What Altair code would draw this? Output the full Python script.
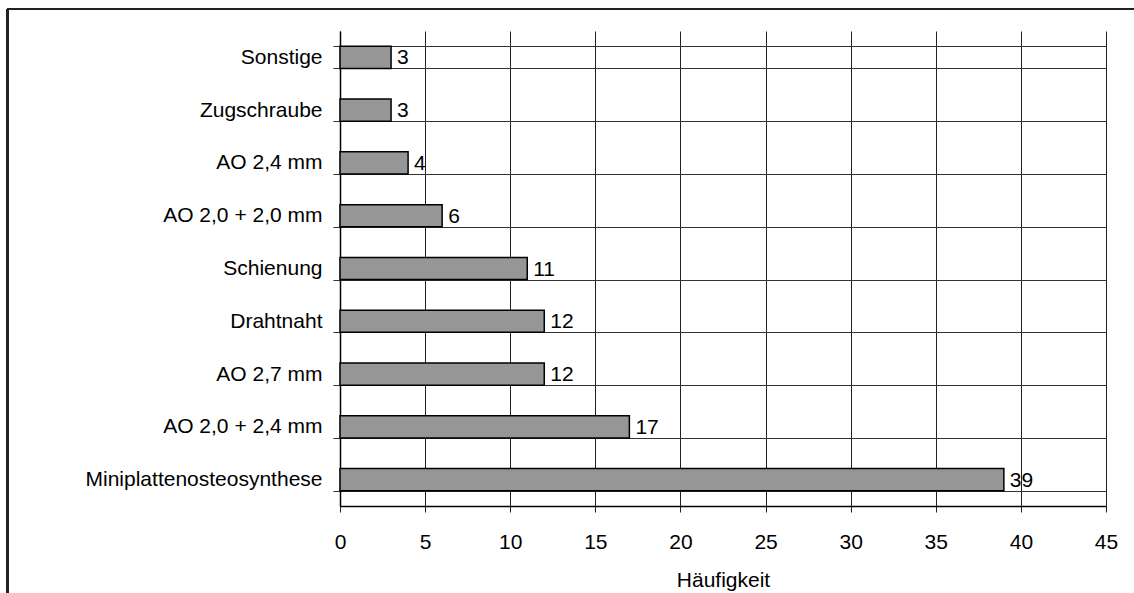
import altair as alt
import pandas as pd

# Osteosynthesis methods and how often each was used
methods = [
    "Sonstige",
    "Zugschraube",
    "AO 2,4 mm",
    "AO 2,0 + 2,0 mm",
    "Schienung",
    "Drahtnaht",
    "AO 2,7 mm",
    "AO 2,0 + 2,4 mm",
    "Miniplattenosteosynthese",
]
counts = [3, 3, 4, 6, 11, 12, 12, 17, 39]
x_ticks = [0, 5, 10, 15, 20, 25, 30, 35, 40, 45]

df = pd.DataFrame({"Methode": methods, "Anzahl": counts})

FONT = "Liberation Sans"
FS = 21
W, H = 766, 475
PAD_L, PAD_T, PAD_R, PAD_B = 340, 31, 28, 87

y_enc = alt.Y(
    "Methode:N",
    sort=methods,
    title=None,
    scale=alt.Scale(paddingInner=0.58, paddingOuter=0.29),
    axis=alt.Axis(
        tickBand="extent",
        grid=True,
        gridColor="#333333",
        gridWidth=1,
        gridOpacity=1,
        domainColor="#000000",
        domainWidth=1.5,
        tickColor="#333333",
        tickSize=7,
        labelPadding=11,
        labelLimit=400,
        labelFont=FONT,
        labelFontSize=FS,
        labelColor="#000000",
    ),
)

x_enc = alt.X(
    "Anzahl:Q",
    title="Häufigkeit",
    scale=alt.Scale(domain=[0, 45], nice=False),
    axis=alt.Axis(
        values=x_ticks,
        grid=True,
        gridColor="#222222",
        gridWidth=1,
        gridOpacity=1,
        domainColor="#000000",
        domainWidth=1.5,
        tickColor="#222222",
        tickSize=6,
        labelPadding=19,
        labelFlush=False,
        labelFont=FONT,
        labelFontSize=FS,
        labelColor="#000000",
        titleFont=FONT,
        titleFontSize=FS,
        titleFontWeight="normal",
        titleColor="#000000",
        titleBaseline="alphabetic",
        titleY=80,
    ),
)

bars = alt.Chart(df).mark_bar(
    color="#969696", stroke="#000000", strokeWidth=1.5
).encode(x=x_enc, y=y_enc)

labels = alt.Chart(df).mark_text(
    align="left", baseline="middle", dx=6, dy=1,
    font=FONT, fontSize=FS, color="#000000"
).encode(x="Anzahl:Q", y=alt.Y("Methode:N", sort=methods), text="Anzahl:Q")

# Outer frame of the chart (top and left edges)
frame_top = alt.Chart(df).mark_rule(color="#222222", strokeWidth=2).encode(
    x=alt.value(7 - PAD_L), x2=alt.value(1134 - PAD_L), y=alt.value(9 - PAD_T)
)
frame_left = alt.Chart(df).mark_rule(color="#222222", strokeWidth=2).encode(
    x=alt.value(7.5 - PAD_L), y=alt.value(9 - PAD_T), y2=alt.value(593 - PAD_T)
)

chart = (
    alt.layer(bars, labels, frame_top, frame_left)
    .properties(
        width=W,
        height=H,
        autosize=alt.AutoSizeParams(type="none"),
        padding={"left": PAD_L, "top": PAD_T, "right": PAD_R, "bottom": PAD_B},
        background="#ffffff",
    )
    .configure_view(stroke=None)
)

chart.save("out.html", embed_options={"renderer": "svg", "actions": False})
